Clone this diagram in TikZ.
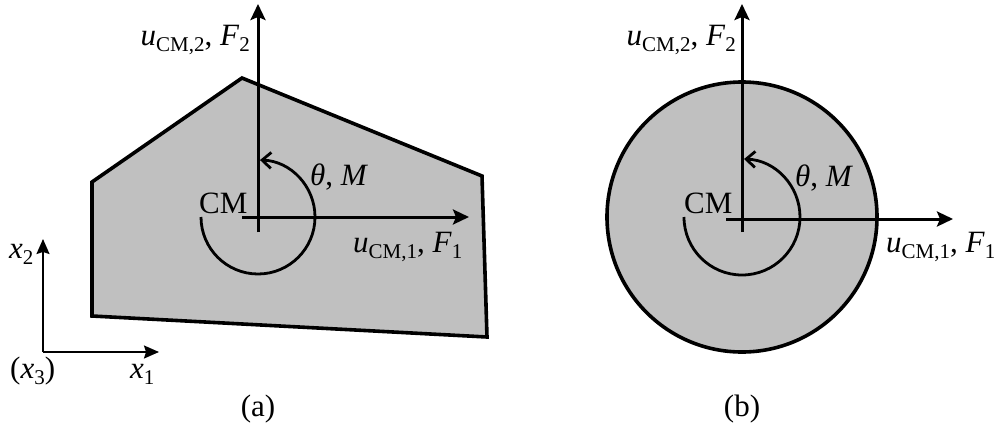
\documentclass[tikz,border=0pt]{standalone}
\usepackage{fontspec}
\setmainfont{Liberation Serif}
\usetikzlibrary{arrows.meta}
\definecolor{bodygray}{RGB}{192,192,192}
\newcommand\sbx[1]{\raisebox{-0.22em}{\fontsize{21}{21}\selectfont #1}}
\tikzset{
  lbl/.style={inner sep=0pt, font=\fontsize{31}{34}\selectfont},
  body/.style={draw=black, line width=3.6pt, fill=bodygray, line join=miter},
  force/.style={line width=3pt, -{Stealth[length=16pt,width=15pt,inset=3pt]}},
  moment/.style={line width=2.8pt, -{Straight Barb[length=9pt,width=16pt,line width=2.8pt]}},
  axis/.style={line width=1.8pt, -{Stealth[length=15pt,width=13pt,inset=2pt]}}
}
\begin{document}
\begin{tikzpicture}[x=1pt,y=-1pt]
\useasboundingbox (0,0) rectangle (996,434);
% ---------- (a) ----------
\draw[body] (92,182) -- (242,78) -- (482,176) -- (487,337) -- (92,316) -- cycle;
\coordinate (ca) at (258,217);
\coordinate (catop) at (258,4);
\coordinate (caright) at (469,217);
\draw[line width=3pt] (258,232) -- (ca);
\draw[force] (258,232) -- (catop);
\draw[force] (242,217) -- (caright);
\draw[moment] ([shift={(180:57)}]ca) arc[start angle=180, end angle=-88, radius=57];
\node[lbl, anchor=base west] (cma) at (199,213) {CM};
\node[lbl, anchor=base west] (tha) at (310,185) {\textit{θ}, \textit{M}};
\node[lbl, anchor=base west] (u1a) at (353,252) {\textit{u}\sbx{CM,1}, \textit{F}\sbx{1}};
\node[lbl, anchor=base east] (u2a) at (250,45) {\textit{u}\sbx{CM,2}, \textit{F}\sbx{2}};
% small axes
\coordinate (o) at (43,352);
\coordinate (x2e) at (43,239);
\coordinate (x1e) at (159,352);
\draw[axis] (o) -- (x2e);
\draw[axis] (o) -- (x1e);
\node[lbl, anchor=base west] (x2l) at (9,258) {\textit{x}\sbx{2}};
\node[lbl, anchor=base west] (x3l) at (10,378) {(\textit{x}\sbx{3})};
\node[lbl, anchor=base west] (x1l) at (130,378) {\textit{x}\sbx{1}};
\node[lbl, anchor=base] (capa) at (258,416) {(a)};
% ---------- (b) ----------
\coordinate (cb) at (742,217);
\draw[body] (cb) circle[radius=135];
\coordinate (cbtop) at (742,4);
\coordinate (cbright) at (953,219);
\draw[force] (742,232) -- (cbtop);
\draw[force] (726,219) -- (cbright);
\draw[moment] ([shift={(180:58)}]cb) arc[start angle=180, end angle=-88, radius=58];
\node[lbl, anchor=base west] (cmb) at (684,213) {CM};
\node[lbl, anchor=base west] (thb) at (795,186) {\textit{θ}, \textit{M}};
\node[lbl, anchor=base west] (u1b) at (886,252) {\textit{u}\sbx{CM,1}, \textit{F}\sbx{1}};
\node[lbl, anchor=base east] (u2b) at (736,45) {\textit{u}\sbx{CM,2}, \textit{F}\sbx{2}};
\node[lbl, anchor=base] (capb) at (742,416) {(b)};
\end{tikzpicture}
\end{document}
